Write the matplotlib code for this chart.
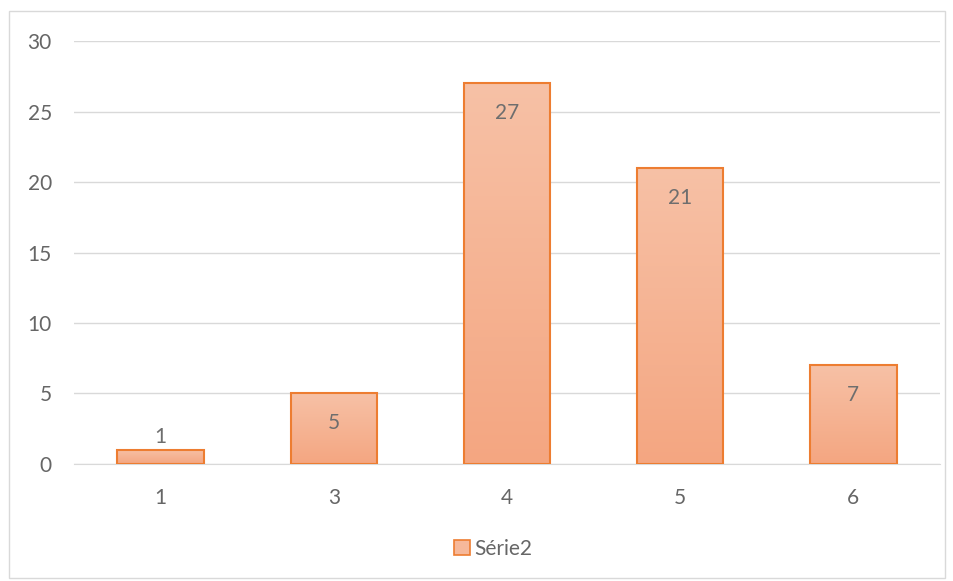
import numpy as np
import matplotlib.pyplot as plt
from matplotlib.patches import Rectangle

categories = ["1", "3", "4", "5", "6"]
values = [1, 5, 27, 21, 7]
series_name = "Série2"

plt.rcParams['font.family'] = ['Lato', 'DejaVu Sans']

fig = plt.figure(figsize=(9.54, 5.81), dpi=100)
ax = fig.add_axes([0.0776, 0.2014, 0.9077, 0.728])

# outer chart border
fig.patches.append(Rectangle((0.0095, 0.005), 0.981, 0.976, transform=fig.transFigure,
                             fill=False, edgecolor="#D9D9D9", linewidth=1))

x = np.arange(len(categories))
bars = ax.bar(x, values, width=0.5, color="none", edgecolor="#ED7D31", linewidth=1.5,
              label=series_name, zorder=3)

# vertical gradient inside each bar
grad = np.linspace(0, 1, 256).reshape(-1, 1)
top = np.array([247, 193, 166]) / 255
bot = np.array([244, 166, 129]) / 255
img = top + (bot - top) * grad[..., None]
img = img.reshape(256, 1, 3)
for b in bars:
    x0, w, h = b.get_x(), b.get_width(), b.get_height()
    im = ax.imshow(img, extent=(x0, x0 + w, 0, h), aspect="auto", origin="upper", zorder=2)
    im.set_clip_path(b)

ax.set_xlim(-0.5, len(categories) - 0.5)
ax.set_ylim(0, 30)
ax.set_yticks(range(0, 31, 5))
ax.set_xticks(x)
ax.set_xticklabels(categories)
ax.grid(axis="y", color="#D9D9D9", linewidth=1, zorder=0)
ax.set_axisbelow(True)
for s in ["top", "right", "left"]:
    ax.spines[s].set_visible(False)
ax.spines["bottom"].set_color("#D9D9D9")
ax.tick_params(length=0, labelsize=15, labelcolor="#666666")
ax.tick_params(axis="y", pad=16)
ax.tick_params(axis="x", pad=17)

for xi, v in zip(x, values):
    if v < 2:
        ax.text(xi, v + 0.2, str(v), ha="center", va="bottom", fontsize=15, color="#6E6E6E", zorder=4)
    else:
        ax.text(xi, v - 1.4, str(v), ha="center", va="top", fontsize=15, color="#6E6E6E", zorder=4)

leg = ax.legend(handles=[Rectangle((0, 0), 1, 1, facecolor="#F6B89A", edgecolor="#ED7D31", linewidth=1.2)],
                labels=[series_name], loc="center", bbox_to_anchor=(0.484, -0.2), frameon=False,
                fontsize=15, handlelength=0.76, handleheight=0.76, handletextpad=0.2)
for t in leg.get_texts():
    t.set_color("#666666")

fig.savefig("out.png", dpi=100)
